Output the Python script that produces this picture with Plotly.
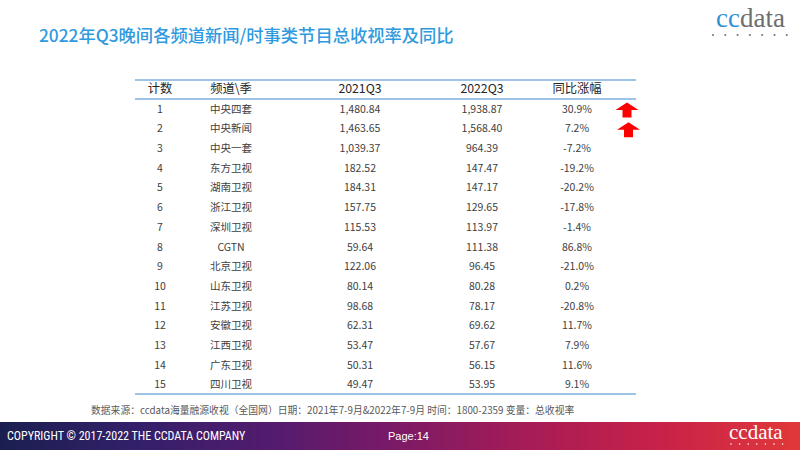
import plotly.graph_objects as go

# table data
ranks = list(range(1, 16))
channels = ["中央四套", "中央新闻", "中央一套", "东方卫视", "湖南卫视", "浙江卫视", "深圳卫视", "CGTN",
            "北京卫视", "山东卫视", "江苏卫视", "安徽卫视", "江西卫视", "广东卫视", "四川卫视"]
q3_2021 = [1480.84, 1463.65, 1039.37, 182.52, 184.31, 157.75, 115.53, 59.64,
           122.06, 80.14, 98.68, 62.31, 53.47, 50.31, 49.47]
q3_2022 = [1938.87, 1568.40, 964.39, 147.47, 147.17, 129.65, 113.97, 111.38,
           96.45, 80.28, 78.17, 69.62, 57.67, 56.15, 53.95]
yoy = [30.9, 7.2, -7.2, -19.2, -20.2, -17.8, -1.4, 86.8, -21.0, 0.2, -20.8, 11.7, 7.9, 11.6, 9.1]
headers = ["计数", "频道\\季", "2021Q3", "2022Q3", "同比涨幅"]
arrow_rows = [1, 2]

title = "2022年Q3晚间各频道新闻/时事类节目总收视率及同比"
source = "数据来源：ccdata海量融源收视（全国网）日期：2021年7-9月&2022年7-9月 时间：1800-2359 变量：总收视率"

W, H = 800, 450
row_px = 19.7           # pixel height of a table row
first_row_px = 110      # pixel centre of row 1
col_x = [160, 231, 360, 482, 577]
FONT = "Noto Sans CJK SC"
body_col = "#404040"
line_col = "#9dc3e6"

# y axis in row units, reversed so row 1 is on top
y_top = 1 - first_row_px / row_px
y_bot = 1 + (H - first_row_px) / row_px

fig = go.Figure()

# header
fig.add_trace(go.Scatter(
    x=col_x, y=[0] * len(headers), text=headers, mode="text",
    textfont=dict(family=FONT, size=12.3, color="#262626"),
    hoverinfo="skip", showlegend=False))

columns = [
    [str(r) for r in ranks],
    channels,
    [f"{v:,.2f}" for v in q3_2021],
    [f"{v:,.2f}" for v in q3_2022],
    [f"{v:.1f}%" for v in yoy],
]
for cx, vals in zip(col_x, columns):
    fig.add_trace(go.Scatter(
        x=[cx] * len(vals), y=ranks, text=vals, mode="text",
        textfont=dict(family=FONT, size=10.5, color=body_col),
        hoverinfo="skip", showlegend=False))

# table rules
for p in [80, 99, 394]:
    fig.add_shape(type="line", xref="paper", yref="paper",
                  x0=135 / W, x1=636 / W, y0=1 - p / H, y1=1 - p / H,
                  line=dict(color=line_col, width=1.8))

# red block arrows
for i, r in enumerate(arrow_rows):
    cx = 627 + 1.5 * i
    hw, sw = 11.5, 4.5        # half widths of head and stem (px)
    top = r - 7.5 / row_px
    mid = r
    bot = r + 7.5 / row_px
    path = (f"M {cx} {top} L {cx + hw} {mid} L {cx + sw} {mid} L {cx + sw} {bot} "
            f"L {cx - sw} {bot} L {cx - sw} {mid} L {cx - hw} {mid} Z")
    fig.add_shape(type="path", path=path, xref="x", yref="y",
                  fillcolor="#ff0000", line=dict(width=0))

# footer gradient bar
stops = ["#1b1f50", "#33206a", "#521b6e", "#7d1a66", "#a81c56", "#c92248", "#e0383a"]
n = 200
fig.add_trace(go.Heatmap(
    z=[list(range(n))], x=list(range(n)), y=[0],
    colorscale=[[k / (len(stops) - 1), c] for k, c in enumerate(stops)],
    showscale=False, hoverinfo="skip", xaxis="x2", yaxis="y2"))

# logo dots
for cx0, cy, step, rad, col in [(713, 35, 12.3, 1.1, "#7a7a7a"), (731, 444, 8.6, 0.8, "white")]:
    for k in range(7):
        x = cx0 + k * step
        fig.add_shape(type="circle", xref="paper", yref="paper",
                      x0=(x - rad) / W, x1=(x + rad) / W,
                      y0=1 - (cy + rad) / H, y1=1 - (cy - rad) / H,
                      fillcolor=col, line=dict(width=0))

annotations = [
    dict(text=title, x=37 / W, y=1 - 34 / H, xref="paper", yref="paper",
         xanchor="left", yanchor="middle", showarrow=False,
         font=dict(family=FONT, size=17.3, color="#2f9ae0", weight=500)),
    dict(text="<span style='color:#2d8fd5'>cc</span>data", x=750 / W, y=1 - 18 / H,
         xref="paper", yref="paper", xanchor="center", yanchor="middle", showarrow=False,
         font=dict(family="Liberation Serif", size=27, color="#6e6e6e")),
    dict(text=source, x=89 / W, y=1 - 410 / H, xref="paper", yref="paper",
         xanchor="left", yanchor="middle", showarrow=False,
         font=dict(family=FONT, size=9.8, color="#595959")),
    dict(text="COPYRIGHT © 2017-2022 THE CCDATA COMPANY", x=5 / W, y=1 - 436 / H,
         xref="paper", yref="paper", xanchor="left", yanchor="middle", showarrow=False,
         font=dict(family="Liberation Sans Narrow, Roboto Condensed, Liberation Sans", size=12,
                   color="white")),
    dict(text="Page:14", x=386 / W, y=1 - 436 / H, xref="paper", yref="paper",
         xanchor="left", yanchor="middle", showarrow=False,
         font=dict(family="Liberation Sans Narrow, Liberation Sans", size=11, color="white")),
    dict(text="ccdata", x=756 / W, y=1 - 432 / H, xref="paper", yref="paper",
         xanchor="center", yanchor="middle", showarrow=False,
         font=dict(family="Liberation Serif", size=21, color="white")),
]

fig.update_layout(
    width=W, height=H,
    margin=dict(l=0, r=0, t=0, b=0),
    paper_bgcolor="white", plot_bgcolor="rgba(0,0,0,0)",
    xaxis=dict(range=[0, W], visible=False, fixedrange=True),
    yaxis=dict(range=[y_bot, y_top], visible=False, fixedrange=True),
    xaxis2=dict(range=[-0.5, n - 0.5], visible=False, anchor="y2", domain=[0, 1]),
    yaxis2=dict(range=[-0.5, 0.5], visible=False, anchor="x2", domain=[0, 28 / H]),
    annotations=annotations,
)

# the default page has an 8px body margin; drop it so the figure fills the window
fig.write_html("out.html", config={"displayModeBar": False},
               post_script="document.body.style.margin='0px';")
